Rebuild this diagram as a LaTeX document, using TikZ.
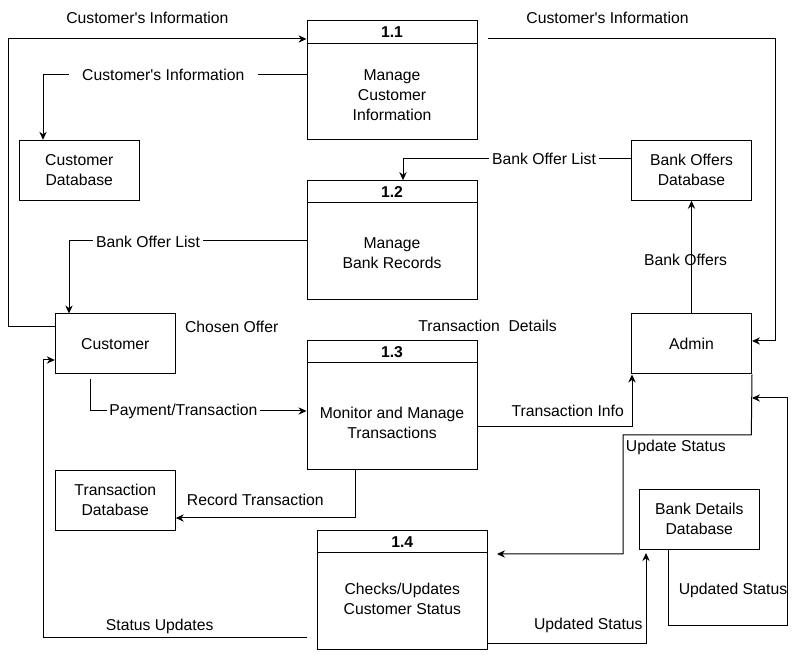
\documentclass[tikz,border=0pt]{standalone}
\usepackage{fontspec}
\setmainfont{Liberation Sans}
\usetikzlibrary{arrows.meta}
\begin{document}
\begin{tikzpicture}[x=0.75pt,y=-0.75pt,
  every node/.style={font=\fontsize{11.8}{15}\selectfont},
  ext/.style={draw, line width=0.75pt, inner sep=0pt, minimum width=90pt, minimum height=45pt},
  proc/.style={draw, line width=0.75pt, inner sep=0pt, minimum width=127.5pt},
  txt/.style={align=center, inner sep=0pt},
  lbl/.style={inner sep=1pt},
  lblw/.style={inner sep=2pt, fill=white},
  flow/.style={line width=0.75pt, -{Stealth[length=6pt,width=5.5pt]}},
  hdr/.style={font=\fontsize{11.8}{15}\selectfont\bfseries, inner sep=0pt}
]
\useasboundingbox (0,0) rectangle (800,655);

% external entities / stores
\node[ext] (cdb)   at (79.3,170.3)  {};
\node[ext] (cust)  at (115.3,344)   {};
\node[ext] (tdb)   at (115.3,500.3) {};
\node[ext] (bodb)  at (691.5,170.3) {};
\node[ext] (admin) at (691.5,344)   {};
\node[ext] (bddb)  at (699.3,519.3) {};
\node[txt] (cdbt)   at (cdb)   {Customer\\Database};
\node[txt] (custt)  at (cust)  {Customer};
\node[txt] (tdbt)   at (tdb)   {Transaction\\Database};
\node[txt] (bodbt)  at (bodb)  {Bank Offers\\Database};
\node[txt] (admint) at (admin) {Admin};
\node[txt] (bddbt)  at (bddb)  {Bank Details\\Database};

% processes
\node[proc, minimum height=89.5pt] (p11) at (392,80.3) {};
\node[proc, minimum height=89.5pt] (p12) at (392,240.3) {};
\node[proc, minimum height=97pt]   (p13) at (392,405.3) {};
\node[proc, minimum height=89.5pt] (p14) at (402.3,590.3) {};
\draw[line width=0.75pt] (p11.west |- 0,43.3) -- (p11.east |- 0,43.3);
\draw[line width=0.75pt] (p12.west |- 0,203) -- (p12.east |- 0,203);
\draw[line width=0.75pt] (p13.west |- 0,363) -- (p13.east |- 0,363);
\draw[line width=0.75pt] (p14.west |- 0,553) -- (p14.east |- 0,553);
\node[hdr] (h11) at (392,32) {1.1};
\node[hdr] (h12) at (392,192) {1.2};
\node[hdr] (h13) at (392,352) {1.3};
\node[hdr] (h14) at (402.3,542) {1.4};
\node[txt] (b11) at (392,95) {Manage\\Customer\\Information};
\node[txt] (b12) at (392,253) {Manage\\Bank Records};
\node[txt] (b13) at (392,423) {Monitor and Manage\\Transactions};
\node[txt] (b14) at (402.3,598.5) {Checks/Updates\\Customer Status};

% free-end coordinates
\coordinate (c3)  at (487.7,39);
\coordinate (c8)  at (90,379);
\coordinate (c11) at (497,554);
\coordinate (c14) at (307,638);
\coordinate (c12) at (646,553);

% connectors
\draw[flow] (cust.west |- 0,327) -- (8,327) -- (8,39) -- (p11.west |- 0,39);
\draw[flow] (p11.west |- 0,75) -- (43,75) -- (43,0 |- cdb.north);
\draw[flow] (c3) -- (775,39) -- (775,341) -- (admin.east |- 0,341);
\draw[flow] (bodb.west |- 0,159) -- (403,159) -- (403,0 |- p12.north);
\draw[flow] (p12.west |- 0,241) -- (69,241) -- (69,0 |- cust.north);
\draw[flow] (admin.north) -- (bodb.south);
\draw[flow] (c8) -- (90,411) -- (p13.west |- 0,411);
\draw[flow] (p13.east |- 0,427) -- (632,427) -- (632,0 |- admin.south);
\draw[flow] (355,0 |- p13.south) -- (355,518) -- (tdb.east |- 0,518);
\draw[flow] (admin.south east) -- (751.3,435) -- (623,435) -- (623,554) -- (c11);
\draw[flow] (668,0 |- bddb.south) -- (668,626) -- (787,626) -- (787,398) -- (admin.east |- 0,398);
\draw[flow] (p14.east |- 0,644) -- (646,644) -- (c12);
\draw[flow] (c14) -- (43,638) -- (43,360) -- (cust.west |- 0,360);

% labels
\node[lbl]  (l1)  at (147.4,18)   {Customer\textquotesingle s Information};
\node[lblw, inner xsep=10pt] (l2)  at (163.3,75.3) {Customer\textquotesingle s Information};
\node[lbl]  (l3)  at (607.5,18)   {Customer\textquotesingle s Information};
\node[lblw] (l4)  at (544,159.3)  {Bank Offer List};
\node[lblw] (l5)  at (148,242)    {Bank Offer List};
\node[lbl]  (l6)  at (685.5,260)  {Bank Offers};
\node[lbl]  (l7)  at (231.7,327.3) {Chosen Offer};
\node[lbl]  (l8)  at (487.5,326)  {Transaction\ \ Details};
\node[lblw] (l9)  at (183.3,411)  {Payment/Transaction};
\node[lbl]  (l10) at (567.7,411)  {Transaction Info};
\node[lbl]  (l11) at (255.3,500)  {Record Transaction};
\node[lbl]  (l12) at (675.8,447.3) {Update Status};
\node[lbl]  (l13) at (733,590)    {Updated Status};
\node[lbl]  (l14) at (588.3,625)  {Updated Status};
\node[lbl]  (l15) at (159.7,626.7) {Status Updates};
\end{tikzpicture}
\end{document}
